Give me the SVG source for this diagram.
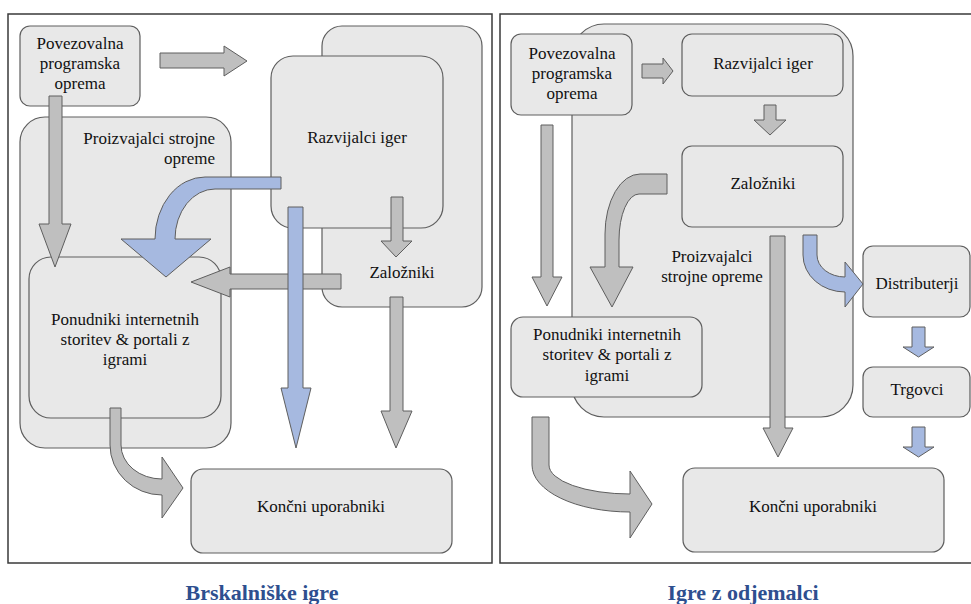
<svg xmlns="http://www.w3.org/2000/svg" width="971" height="604" viewBox="0 0 971 604">
<rect width="971" height="604" fill="#fff"/>
<g id="panel-left" fill="#fff" stroke="#3a3a3a" stroke-width="1.5">
<rect x="8" y="14" width="484" height="549"/>
</g>
<g id="panel-right" fill="#fff" stroke="#3a3a3a" stroke-width="1.5">
<rect x="500" y="14" width="480" height="549"/>
</g>
<g id="nodes" font-family="'Liberation Serif', 'Times New Roman', serif" font-size="17" fill="#111">
<g id="L-zalozniki"><rect x="322" y="26" width="160" height="281" rx="20" fill="#e8e8e8" stroke="#5e5e5e" stroke-width="1.2"/></g>
<g id="L-razvijalci"><rect x="271" y="56" width="172" height="172" rx="22" fill="#e8e8e8" stroke="#5e5e5e" stroke-width="1.2"/><text x="357" y="143" text-anchor="middle">Razvijalci iger</text></g>
<g id="L-povezovalna"><rect x="20" y="26" width="120" height="80" rx="10" fill="#e8e8e8" stroke="#5e5e5e" stroke-width="1.2"/><text x="80" y="49" text-anchor="middle">Povezovalna</text><text x="80" y="69" text-anchor="middle">programska</text><text x="80" y="89" text-anchor="middle">oprema</text></g>
<g id="L-proizvajalci"><rect x="20" y="117" width="211" height="331" rx="25" fill="#e8e8e8" stroke="#5e5e5e" stroke-width="1.2"/><text x="215" y="144" text-anchor="end">Proizvajalci strojne</text><text x="215" y="164" text-anchor="end">opreme</text></g>
<g id="L-ponudniki"><rect x="29" y="257" width="192" height="161" rx="22" fill="#e8e8e8" stroke="#5e5e5e" stroke-width="1.2"/><text x="125" y="325" text-anchor="middle">Ponudniki internetnih</text><text x="125" y="345" text-anchor="middle">storitev &amp; portali z</text><text x="125" y="365" text-anchor="middle">igrami</text></g>
<g id="L-koncni"><rect x="191" y="469" width="261" height="84" rx="12" fill="#e8e8e8" stroke="#5e5e5e" stroke-width="1.2"/><text x="321" y="512" text-anchor="middle">Končni uporabniki</text></g>
<g id="L-zalozniki-label"><text x="402" y="278" text-anchor="middle">Založniki</text></g>
<g id="R-proizvajalci"><rect x="572" y="24" width="281" height="393" rx="32" fill="#e8e8e8" stroke="#5e5e5e" stroke-width="1.2"/><text x="712" y="262" text-anchor="middle">Proizvajalci</text><text x="712" y="282" text-anchor="middle">strojne opreme</text></g>
<g id="R-povezovalna"><rect x="511" y="34" width="121" height="81" rx="10" fill="#e8e8e8" stroke="#5e5e5e" stroke-width="1.2"/><text x="572" y="59" text-anchor="middle">Povezovalna</text><text x="572" y="79" text-anchor="middle">programska</text><text x="572" y="99" text-anchor="middle">oprema</text></g>
<g id="R-razvijalci"><rect x="682" y="34" width="161" height="62" rx="10" fill="#e8e8e8" stroke="#5e5e5e" stroke-width="1.2"/><text x="763" y="69" text-anchor="middle">Razvijalci iger</text></g>
<g id="R-zalozniki"><rect x="682" y="146" width="161" height="81" rx="10" fill="#e8e8e8" stroke="#5e5e5e" stroke-width="1.2"/><text x="763" y="189" text-anchor="middle">Založniki</text></g>
<g id="R-ponudniki"><rect x="511" y="317" width="191" height="80" rx="12" fill="#e8e8e8" stroke="#5e5e5e" stroke-width="1.2"/><text x="607" y="340" text-anchor="middle">Ponudniki internetnih</text><text x="607" y="360" text-anchor="middle">storitev &amp; portali z</text><text x="607" y="381" text-anchor="middle">igrami</text></g>
<g id="R-distributerji"><rect x="863" y="246" width="107" height="71" rx="10" fill="#e8e8e8" stroke="#5e5e5e" stroke-width="1.2"/><text x="917" y="289" text-anchor="middle">Distributerji</text></g>
<g id="R-trgovci"><rect x="863" y="367" width="107" height="50" rx="10" fill="#e8e8e8" stroke="#5e5e5e" stroke-width="1.2"/><text x="917" y="395" text-anchor="middle">Trgovci</text></g>
<g id="R-koncni"><rect x="683" y="468" width="261" height="84" rx="12" fill="#e8e8e8" stroke="#5e5e5e" stroke-width="1.2"/><text x="813" y="512" text-anchor="middle">Končni uporabniki</text></g>
</g>
<g id="connectors" stroke="#5e5e5e" stroke-width="1">
<polygon fill="#bfbfbf" points="160,53 224,53 224,46 247,61 224,76 224,68 160,68"/>
<polygon fill="#bfbfbf" points="49,96 62,96 62,224 71,224 55,267 39,224 49,224"/>
<polygon fill="#bfbfbf" points="391,197 403,197 403,241 412,241 396,257 381,241 391,241"/>
<polygon fill="#bfbfbf" points="341,274 341,289 230,289 230,297 191,282 230,267 230,274"/>
<polygon fill="#bfbfbf" points="390,297 403,297 403,411 412,411 396,448 381,411 390,411"/>
<path fill="#bfbfbf" d="M110,408 L121,408 L121,445 A41,34 0 0 0 162,479 L162,457 L183,488 L162,518 L162,495 A52,50 0 0 1 110,445 Z"/>
<path fill="#a6b9e0" d="M281,177 L205,177 A50,62 0 0 0 155,239 L121,239 L166,277 L211,239 L175,239 A40,50 0 0 1 215,189 L281,189 Z"/>
<polygon fill="#a6b9e0" points="288,207 303,207 303,388 311,388 296,448 281,388 288,388"/>
<polygon fill="#bfbfbf" points="642,64 663,64 663,58 673,71 663,84 663,78 642,78"/>
<polygon fill="#bfbfbf" points="764,105 776,105 776,120 786,120 770,135 754,120 764,120"/>
<path fill="#bfbfbf" d="M667,174 L640,174 A35,60 0 0 0 605,234 L605,267 L590,267 L612,307 L633,267 L619,267 L619,240 A20,46 0 0 1 639,194 L667,194 Z"/>
<polygon fill="#bfbfbf" points="541,125 553,125 553,277 562,277 547,306 532,277 541,277"/>
<polygon fill="#bfbfbf" points="770,236 785,236 785,428 793,428 778,457 763,428 770,428"/>
<path fill="#a6b9e0" d="M803,235 L817,235 L817,255 A28,22 0 0 0 845,277 L845,262 L863,284 L845,307 L845,292 A42,37 0 0 1 803,255 Z"/>
<polygon fill="#a6b9e0" points="912,327 925,327 925,347 934,347 918.5,357 903,347 912,347"/>
<polygon fill="#a6b9e0" points="912,427 925,427 925,447 934,447 918.5,457 903,447 912,447"/>
<path fill="#bfbfbf" d="M532,417 L549,417 L549,465 A81,29 0 0 0 630,494 L630,471 L652,504 L630,538 L630,512 A98,47 0 0 1 532,465 Z"/>
</g>
<g id="captions" font-family="'Liberation Serif', 'Times New Roman', serif" font-size="22" font-weight="bold" fill="#2e4f8f" text-anchor="middle">
<text x="262" y="600">Brskalniške igre</text>
<text x="743" y="600">Igre z odjemalci</text>
</g>
</svg>
